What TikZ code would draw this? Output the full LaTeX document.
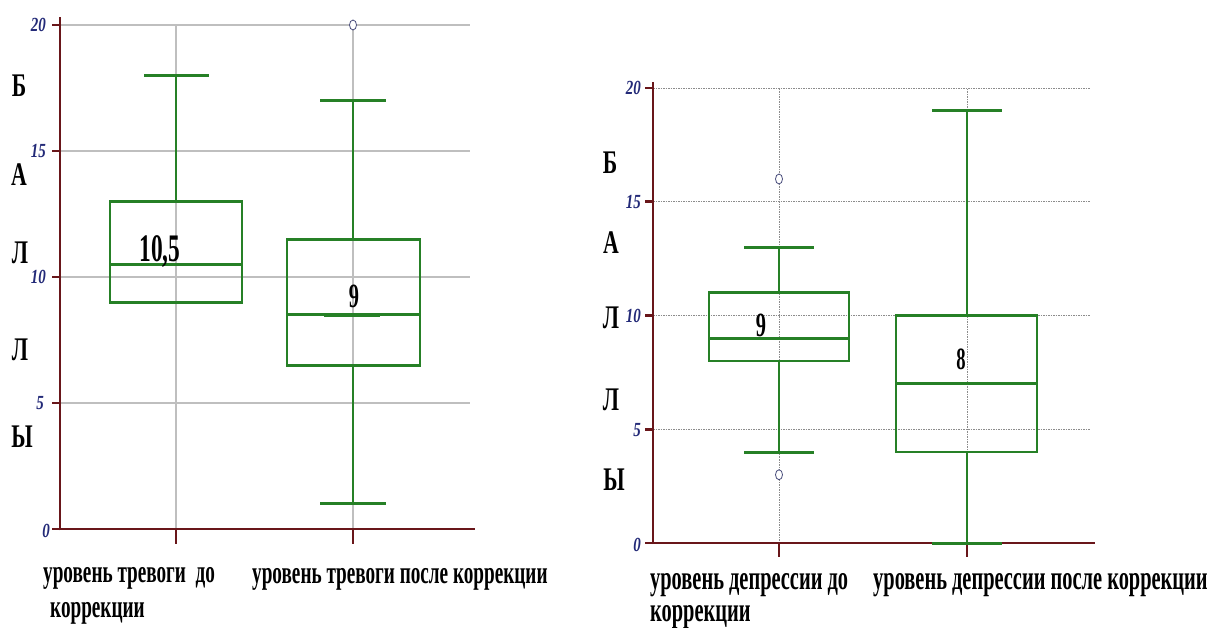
\documentclass[tikz,border=0pt]{standalone}
\usepackage{fontspec}
\setmainfont{Liberation Serif}
\newfontfamily\labfont[FakeStretch=0.6]{Liberation Serif}
\newfontfamily\sidefont[FakeStretch=0.66]{Liberation Serif}
\newfontfamily\tickfont[FakeStretch=0.75]{Liberation Serif}
\definecolor{bxgreen}{RGB}{38,128,38}
\definecolor{axisred}{RGB}{105,22,26}
\definecolor{navy}{RGB}{35,42,120}
\begin{document}
\begin{tikzpicture}[x=1pt,y=-1pt,
  axisline/.style={draw=axisred,line width=2.6pt},
  tickmark/.style={draw=axisred,line width=2.6pt},
  xtick/.style={draw=axisred,line width=1.2pt},
  gridl/.style={draw=black!25,line width=1.1pt},
  gridr/.style={draw=black!45,line width=0.7pt,dash pattern=on 1.5pt off 1pt},
  boxline/.style={draw=bxgreen,line width=2.8pt},
  whisk/.style={draw=bxgreen,line width=2.2pt},
  capline/.style={draw=bxgreen,line width=3pt},
  outl/.style={draw=navy!60!gray,fill=white,line width=0.8pt},
  ticklab/.style={font=\tickfont\bfseries\itshape\fontsize{20}{20}\selectfont,text=navy,anchor=east,inner sep=0pt},
  sidelab/.style={font=\sidefont\bfseries\fontsize{33}{33}\selectfont,inner sep=0pt},
  xlab/.style={font=\labfont\bfseries\fontsize{32}{32}\selectfont,inner sep=0pt,anchor=base west},
  xlabr/.style={xlab,font=\labfont\bfseries\fontsize{34}{34}\selectfont},
  medlab/.style={font=\labfont\bfseries\fontsize{34}{34}\selectfont,inner sep=0pt,anchor=base}
]
\useasboundingbox (0,0) rectangle (1211,628);
\fill[white] (0,0) rectangle (1211,628);

% ================= LEFT CHART =================
\begin{scope}[shift={(0,529)},y=25.2pt]
  % grid
  \foreach \v in {5,10,15,20} \draw[gridl] (60,\v) -- (470,\v);
  \draw[gridl] (176,0) -- (176,20);
  \draw[gridl] (353,0) -- (353,20);
  % axes
  \draw[axisline] (60,-0.05) -- (60,20.3);
  \draw[axisline] (52,0) -- (475,0);
  \foreach \v in {5,10,15,20} \draw[tickmark] (52,\v) -- (60,\v);
  \draw[xtick] (176,0) -- (176,-0.6);
  \draw[xtick] (353,0) -- (353,-0.6);
  % box 1
  \draw[whisk] (176,13) -- (176,18);
  \draw[capline] (144,18) -- (209,18);
  \draw[boxline] (110,9) rectangle (242,13);
  \draw[boxline] (110,10.5) -- (242,10.5);
  % box 2
  \draw[whisk] (353,11.5) -- (353,17);
  \draw[capline] (320,17) -- (386,17);
  \draw[whisk] (353,6.5) -- (353,1);
  \draw[capline] (320,1) -- (386,1);
  \draw[boxline] (287,6.5) rectangle (420,11.5);
  \draw[boxline] (287,8.5) -- (420,8.5);
  \draw[draw=bxgreen,line width=3.6pt] (324,8.5) -- (380,8.5);
  \draw[outl] (353,20) ellipse [x radius=3.5pt, y radius=5pt];
\end{scope}
\node[ticklab] (l20) at (46,25) {20};
\node[ticklab] (l15) at (46,151) {15};
\node[ticklab] (l10) at (46,277) {10};
\node[ticklab] (l5) at (44,403) {5};
\node[ticklab] (l0) at (50,531) {0};
\node[sidelab] (lB) at (19,86) {Б};
\node[sidelab] (lA) at (19,175) {А};
\node[sidelab] (lL1) at (20,253) {Л};
\node[sidelab] (lL2) at (20,350) {Л};
\node[sidelab] (lY) at (22,437) {Ы};
\node[medlab,font=\labfont\bfseries\fontsize{39}{39}\selectfont] (m1) at (160,262) {10,5};
\node[medlab] (m2) at (354,308) {9};
\node[xlab] (x1a) at (43,582) {уровень тревоги\ \ до};
\node[xlab] (x1b) at (50,617) {коррекции};
\node[xlab] (x2) at (252,583) {уровень тревоги после коррекции};

% ================= RIGHT CHART =================
\begin{scope}[shift={(0,543)},y=22.75pt]
  \foreach \v in {5,10,15,20} \draw[gridr] (653,\v) -- (1090,\v);
  \draw[gridr] (779,0) -- (779,20);
  \draw[gridr] (967,0) -- (967,20);
  \draw[axisline] (653,-0.05) -- (653,20.25);
  \draw[axisline] (645,0) -- (1095,0);
  \foreach \v in {5,10,15,20} \draw[tickmark] (645,\v) -- (653,\v);
  \draw[xtick] (779,0) -- (779,-0.62);
  \draw[xtick] (967,0) -- (967,-0.62);
  % box 3
  \draw[whisk] (779,11) -- (779,13);
  \draw[capline] (744,13) -- (814,13);
  \draw[whisk] (779,8) -- (779,4);
  \draw[capline] (744,4) -- (814,4);
  \draw[boxline] (709,8) rectangle (849,11);
  \draw[boxline] (709,9) -- (849,9);
  \draw[outl] (779,16) ellipse [x radius=3.5pt, y radius=5pt];
  \draw[outl] (779,3) ellipse [x radius=3.5pt, y radius=5pt];
  % box 4
  \draw[whisk] (967,10) -- (967,19);
  \draw[capline] (932,19) -- (1002,19);
  \draw[whisk] (967,4) -- (967,0);
  \draw[capline] (932,0) -- (1002,0);
  \draw[boxline] (896,4) rectangle (1037,10);
  \draw[boxline] (896,7) -- (1037,7);
\end{scope}
\node[ticklab] (r20) at (641,88) {20};
\node[ticklab] (r15) at (641,202) {15};
\node[ticklab] (r10) at (641,316) {10};
\node[ticklab] (r5) at (641,430) {5};
\node[ticklab] (r0) at (641,545) {0};
\node[sidelab] (rB) at (610,163) {Б};
\node[sidelab] (rA) at (611,243) {А};
\node[sidelab] (rL1) at (611,318) {Л};
\node[sidelab] (rL2) at (611,400) {Л};
\node[sidelab] (rY) at (614,480) {Ы};
\node[medlab] (m3) at (761,337) {9};
\node[medlab,font=\labfont\bfseries\fontsize{31}{31}\selectfont] (m4) at (961,370) {8};
\node[xlabr] (x3a) at (650,589) {уровень депрессии до};
\node[xlabr] (x3b) at (650,621) {коррекции};
\node[xlabr] (x4) at (873,589) {уровень депрессии после коррекции};
\end{tikzpicture}
\end{document}
